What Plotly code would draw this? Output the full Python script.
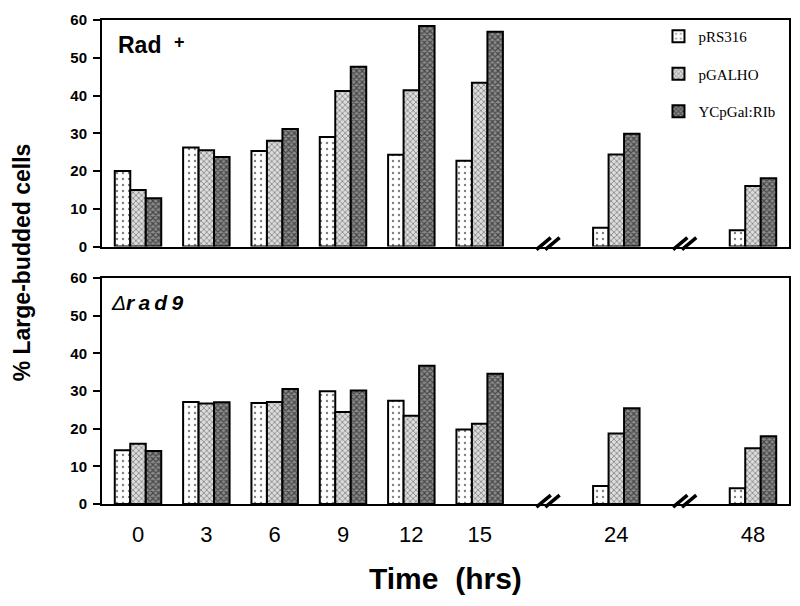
import plotly.graph_objects as go
from plotly.subplots import make_subplots

time_labels = ["0", "3", "6", "9", "12", "15", "24", "48"]
x_positions = [0, 1, 2, 3, 4, 5, 7, 9]
break_positions = [6, 8]
series_names = ["pRS316", "pGALHO", "YCpGal:RIb"]

rad_plus = {
    "pRS316":     [20.0, 26.2, 25.3, 29.0, 24.3, 22.7, 5.0, 4.3],
    "pGALHO":     [15.0, 25.5, 28.0, 41.2, 41.4, 43.4, 24.4, 16.0],
    "YCpGal:RIb": [12.8, 23.7, 31.1, 47.6, 58.4, 56.9, 29.9, 18.1],
}
rad9 = {
    "pRS316":     [14.3, 27.1, 26.8, 29.9, 27.4, 19.8, 4.8, 4.2],
    "pGALHO":     [16.0, 26.7, 27.1, 24.4, 23.4, 21.3, 18.7, 14.8],
    "YCpGal:RIb": [14.1, 27.0, 30.5, 30.1, 36.7, 34.6, 25.4, 18.0],
}

patterns = {
    "pRS316":     dict(shape=".", fgcolor="black", bgcolor="white", size=6, solidity=0.12),
    "pGALHO":     dict(shape="x", fgcolor="#222222", bgcolor="#dcdcdc", size=4, solidity=0.35),
    "YCpGal:RIb": dict(shape="x", fgcolor="black", bgcolor="#8c8c8c", size=4, solidity=0.5),
}

top_domain = [0.532, 1.0]
bottom_domain = [0.0, 0.467]

fig = make_subplots(rows=2, cols=1, shared_xaxes=False)

for row, data in [(1, rad_plus), (2, rad9)]:
    for name in series_names:
        fig.add_trace(go.Bar(
            x=x_positions, y=data[name], name=name,
            legendgroup=name, showlegend=(row == 1),
            marker=dict(color="white", line=dict(color="black", width=2),
                        pattern=patterns[name]),
        ), row=row, col=1)

axis_common = dict(showline=True, linecolor="black", linewidth=2, mirror=True,
                   showgrid=False, zeroline=False, automargin=False)
for r in (1, 2):
    fig.update_xaxes(range=[-0.527, 9.527], **axis_common, row=r, col=1,
                     tickmode="array", tickvals=x_positions,
                     ticktext=time_labels if r == 2 else [""] * len(time_labels),
                     ticks="", ticklabelstandoff=10,
                     tickfont=dict(family="Arial", size=22, color="black"))
    fig.update_yaxes(range=[0, 60], **axis_common, row=r, col=1,
                     domain=top_domain if r == 1 else bottom_domain,
                     tickmode="array", tickvals=[0, 10, 20, 30, 40, 50, 60],
                     ticks="outside", ticklen=7, tickwidth=2, tickcolor="black",
                     ticklabelstandoff=3,
                     tickfont=dict(family="Arial", size=15, color="black", weight="bold"))

annotations = [
    dict(text="<b>Rad</b>", xref="x domain", yref="y domain", x=0.02, y=0.89,
         xanchor="left", yanchor="middle", showarrow=False,
         font=dict(family="Arial", size=23, color="black")),
    dict(text="<b>+</b>", xref="x domain", yref="y domain", x=0.113, y=0.905,
         xanchor="center", yanchor="middle", showarrow=False,
         font=dict(family="Arial", size=18, color="black")),
    dict(text="<i>Δ</i><b><i>r\u2009a\u2009d\u20099</i></b>", xref="x2 domain", yref="y2 domain",
         x=0.01, y=0.89, xanchor="left", yanchor="middle", showarrow=False,
         font=dict(family="Arial", size=21, color="black")),
    dict(text="<b>% Large-budded cells</b>", xref="paper", yref="paper", x=-0.116, y=0.5,
         textangle=-90, showarrow=False, xanchor="center", yanchor="middle",
         font=dict(family="Arial", size=23, color="black")),
    dict(text="<b>Time  (hrs)</b>", xref="paper", yref="paper", x=0.5, y=-0.153,
         showarrow=False, xanchor="center", yanchor="middle",
         font=dict(family="Arial", size=30, color="black")),
]

shapes = []
for xr, dom in [("x", top_domain), ("x2", bottom_domain)]:
    y0 = dom[0]
    for b in break_positions:
        for k in (-0.5, 0.5):
            cx = b + k * 0.13
            shapes.append(dict(type="line", xref=xr, yref="paper",
                               x0=cx - 0.105, x1=cx + 0.105,
                               y0=y0 - 0.0065, y1=y0 + 0.0185,
                               line=dict(color="black", width=3.5)))

fig.update_layout(
    width=800, height=606,
    margin=dict(l=94, r=19, t=12, b=110, autoexpand=False),
    paper_bgcolor="white", plot_bgcolor="white",
    barmode="group", bargap=0.32, bargroupgap=0,
    annotations=annotations, shapes=shapes,
    legend=dict(x=0.81, y=1.0, xanchor="left", yanchor="top",
                bgcolor="rgba(0,0,0,0)", tracegroupgap=15,
                font=dict(family="Times New Roman, Liberation Serif", size=15, color="black")),
)

fig.write_html("out.html")
